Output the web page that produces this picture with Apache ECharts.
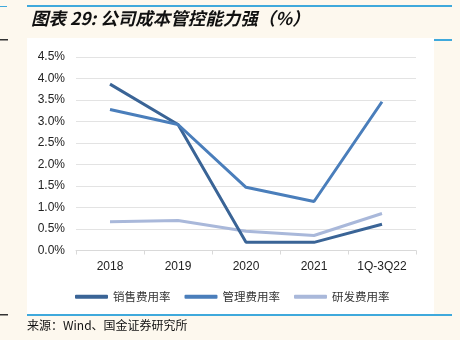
<!DOCTYPE html>
<html><head><meta charset="utf-8">
<script src="https://cdn.jsdelivr.net/npm/echarts@6/dist/echarts.min.js"></script>
<style>html,body{margin:0;padding:0;background:#FDF8EE;}#c{width:460px;height:340px;}</style>
</head><body><div id="c"></div>
<script>
var categories = ['2018', '2019', '2020', '2021', '1Q-3Q22'];
var salesRate = [3.87, 2.93, 0.19, 0.19, 0.61];
var mgmtRate = [3.28, 2.93, 1.47, 1.14, 3.46];
var rdRate = [0.67, 0.70, 0.45, 0.35, 0.86];
var seriesNames = ['销售费用率', '管理费用率', '研发费用率'];
var yTicks = [0, 0.5, 1.0, 1.5, 2.0, 2.5, 3.0, 3.5, 4.0, 4.5];

var chart = echarts.init(document.getElementById('c'), null, {renderer: 'canvas'});
var font = '"Noto Sans CJK SC", "Liberation Sans", sans-serif';
var colors = ['#3A6496', '#4A7EBB', '#A9B8DA'];
var option = {
  backgroundColor: '#FDF8EE',
  animation: false,
  title: {
    text: '图表 29: 公司成本管控能力强（%）',
    left: 26, top: 5,
    textStyle: {fontFamily: font, fontSize: 17.5, fontStyle: 'italic', fontWeight: 'bold', color: '#111'}
  },
  graphic: [
    {type: 'rect', shape: {x: 27, y: 38, width: 407, height: 276}, style: {fill: '#FFFFFF'}, z: -10},
    {type: 'rect', shape: {x: 27, y: 5, width: 425, height: 2}, style: {fill: '#3FA9DC'}},
    {type: 'rect', shape: {x: 0, y: 6, width: 7, height: 1}, style: {fill: '#3FA9DC'}},
    {type: 'rect', shape: {x: 434, y: 39, width: 18, height: 2}, style: {fill: '#3FA9DC'}},
    {type: 'rect', shape: {x: 0, y: 39, width: 8, height: 1.5}, style: {fill: '#333'}},
    {type: 'rect', shape: {x: 27, y: 314, width: 425, height: 2}, style: {fill: '#3FA9DC'}},
    {type: 'rect', shape: {x: 0, y: 314, width: 8, height: 1.5}, style: {fill: '#333'}},
    {type: 'text', left: 27, top: 319, style: {text: '来源：Wind、国金证券研究所', fontFamily: font, fontSize: 12, fill: '#111'}}
  ],
  legend: {
    left: 70, top: 286,
    itemWidth: 33, itemHeight: 4, itemGap: 14,
    icon: 'roundRect',
    textStyle: {fontFamily: font, fontSize: 11.5, color: '#333'},
    data: seriesNames
  },
  grid: {left: 76, right: 44, top: 57, bottom: 89.5},
  xAxis: {
    type: 'category', data: categories, boundaryGap: true,
    axisLine: {lineStyle: {color: '#D9D9D9', width: 1}},
    axisTick: {show: true, length: 4, lineStyle: {color: '#D9D9D9'}},
    axisLabel: {color: '#222', fontFamily: '"Liberation Sans", Arial, sans-serif', fontSize: 12, margin: 10}
  },
  yAxis: {
    type: 'value', min: 0, max: 4.5, interval: 0.5,
    axisLine: {show: false}, axisTick: {show: false},
    splitLine: {lineStyle: {color: '#E3E3E3', width: 1}},
    axisLabel: {color: '#222', fontFamily: '"Liberation Sans", Arial, sans-serif', fontSize: 12, margin: 11,
      formatter: function (v) { return v.toFixed(1) + '%'; }}
  },
  series: [
    {name: seriesNames[0], type: 'line', data: salesRate, symbol: 'none', color: colors[0], lineStyle: {width: 3, color: colors[0]}, z: 3},
    {name: seriesNames[1], type: 'line', data: mgmtRate, symbol: 'none', color: colors[1], lineStyle: {width: 3, color: colors[1]}, z: 4},
    {name: seriesNames[2], type: 'line', data: rdRate, symbol: 'none', color: colors[2], lineStyle: {width: 3, color: colors[2]}, z: 2}
  ]
};
chart.setOption(option);
</script></body></html>
